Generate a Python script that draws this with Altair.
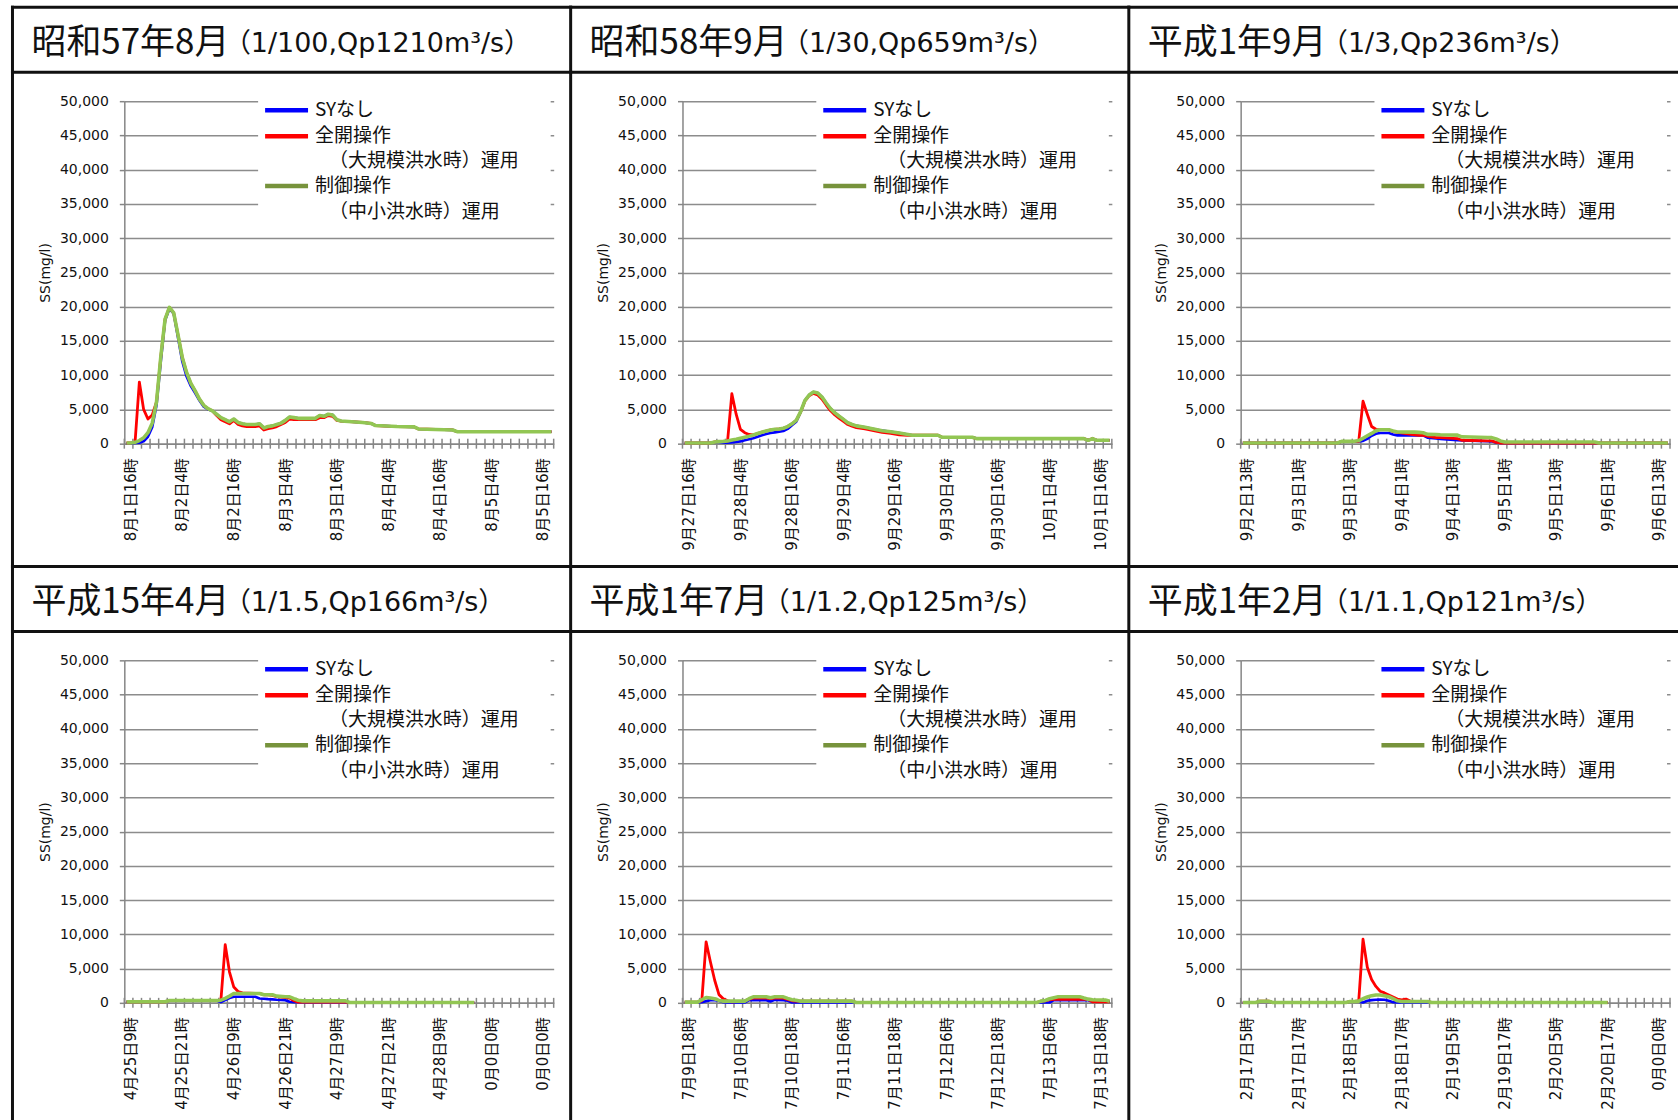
import altair as alt
import pandas as pd

# ---------------------------------------------------------------------------
# Panel titles
P1_TITLE, P1_SUB = "昭和57年8月", "（1/100,Qp1210m³/s）"
P2_TITLE, P2_SUB = "昭和58年9月", "（1/30,Qp659m³/s）"
P3_TITLE, P3_SUB = "平成1年9月", "（1/3,Qp236m³/s）"
P4_TITLE, P4_SUB = "平成15年4月", "（1/1.5,Qp166m³/s）"
P5_TITLE, P5_SUB = "平成1年7月", "（1/1.2,Qp125m³/s）"
P6_TITLE, P6_SUB = "平成1年2月", "（1/1.1,Qp121m³/s）"

# Category labels (every 12th hourly category)
P1_LABELS = ["8月1日16時", "8月2日4時", "8月2日16時", "8月3日4時", "8月3日16時",
             "8月4日4時", "8月4日16時", "8月5日4時", "8月5日16時"]
P2_LABELS = ["9月27日16時", "9月28日4時", "9月28日16時", "9月29日4時", "9月29日16時",
             "9月30日4時", "9月30日16時", "10月1日4時", "10月1日16時"]
P3_LABELS = ["9月2日13時", "9月3日1時", "9月3日13時", "9月4日1時", "9月4日13時",
             "9月5日1時", "9月5日13時", "9月6日1時", "9月6日13時"]
P4_LABELS = ["4月25日9時", "4月25日21時", "4月26日9時", "4月26日21時", "4月27日9時",
             "4月27日21時", "4月28日9時", "0月0日0時", "0月0日0時"]
P5_LABELS = ["7月9日18時", "7月10日6時", "7月10日18時", "7月11日6時", "7月11日18時",
             "7月12日6時", "7月12日18時", "7月13日6時", "7月13日18時"]
P6_LABELS = ["2月17日5時", "2月17日17時", "2月18日5時", "2月18日17時", "2月19日5時",
             "2月19日17時", "2月20日5時", "2月20日17時", "0月0日0時"]

# SS (mg/l) by hour index: SYなし / 全開操作 / 制御操作
P1_T = [0, 1, 2, 3, 4, 5, 6, 7, 8, 9, 10, 11, 12, 13, 14, 15, 16, 17, 18, 19,
        20, 21, 22, 23, 24, 25, 26, 27, 28, 30, 31, 32, 33, 34, 35, 36, 37, 38, 39, 40,
        44, 45, 46, 47, 48, 49, 50, 55, 57, 58, 63, 67, 68, 76, 77, 99]
P1_SY = [50, 50, 100, 150, 350, 1000, 2400, 5600, 12000, 18000,
         19700, 19000, 15500, 12000, 9800, 8400, 7400, 6300, 5400, 5000,
         4800, 4300, 3800, 3500, 3200, 3600, 3100, 2900, 2800,
         2800, 2900, 2300, 2500, 2600, 2800, 3000, 3400, 3900, 3800, 3700,
         3700, 4100, 4000, 4300, 4200, 3500, 3300,
         3100, 2950, 2650, 2500, 2450, 2150, 2000, 1750, 1750]
P1_FULL = [100, 100, 200, 9000, 5000, 3600, 4200, 6100, 12700, 18200,
           19900, 19100, 15900, 12600, 10400, 8800, 7700, 6500, 5600, 5100,
           4800, 4100, 3500, 3200, 2900, 3400, 2800, 2600, 2500,
           2500, 2600, 2000, 2200, 2300, 2500, 2800, 3100, 3600, 3500, 3500,
           3500, 3800, 3800, 4100, 4000, 3400, 3300,
           3100, 2950, 2650, 2500, 2450, 2150, 2000, 1750, 1750]
P1_CTRL = [100, 100, 200, 450, 850, 1600, 3000, 6100, 12700, 18200,
           19900, 19100, 15900, 12600, 10400, 8800, 7700, 6500, 5600, 5100,
           4800, 4300, 3800, 3500, 3200, 3600, 3100, 2900, 2800,
           2800, 2900, 2300, 2500, 2600, 2800, 3000, 3400, 3900, 3800, 3700,
           3700, 4100, 4000, 4300, 4200, 3500, 3300,
           3100, 2950, 2650, 2500, 2450, 2150, 2000, 1750, 1750]

P2_T = [0, 6, 7, 8, 9, 10, 11, 12, 13, 14, 15, 16, 17, 18, 19, 20, 21, 22, 23, 24,
        25, 26, 27, 28, 29, 30, 31, 32, 33, 34, 35, 36, 37, 38, 39, 40,
        42, 44, 46, 48, 50, 52, 53, 59, 60, 67, 68, 93, 94, 95, 96, 99]
P2_SY = [100, 100, 200, 200, 150, 150, 180, 260, 330, 500,
         650, 780, 1000, 1220, 1400, 1550, 1650, 1750, 1850, 2150,
         2700, 3200, 4600, 6300, 7100, 7550, 7400, 6800, 5900, 5100,
         4500, 4000, 3550, 3050, 2800, 2600,
         2400, 2150, 1900, 1750, 1550, 1350, 1230, 1230, 930, 930, 740, 740, 490, 740, 490, 490]
P2_FULL = [100, 100, 250, 300, 330, 380, 7300, 4300, 2100, 1600,
           1350, 1270, 1480, 1680, 1850, 2000, 2100, 2150, 2250, 2500,
           2900, 3400, 4600, 6200, 7000, 7350, 7100, 6500, 5600, 4800,
           4200, 3700, 3250, 2800, 2550, 2350,
           2150, 1900, 1650, 1500, 1300, 1200, 1230, 1230, 930, 930, 740, 740, 490, 740, 490, 490]
P2_CTRL = [100, 100, 250, 300, 330, 380, 520, 650, 800, 950,
           1100, 1270, 1480, 1680, 1850, 2000, 2100, 2150, 2250, 2500,
           2900, 3400, 4650, 6300, 7100, 7550, 7400, 6800, 5900, 5100,
           4500, 4000, 3550, 3050, 2800, 2600,
           2400, 2150, 1900, 1750, 1550, 1350, 1230, 1230, 930, 930, 740, 740, 490, 740, 490, 490]

P3_T = [0, 22, 23, 26, 27, 28, 29, 30, 31, 32, 34, 35, 36, 40, 41, 42, 43, 45, 46, 50,
        51, 57, 58, 59, 60, 61, 82, 83, 99]
P3_SY = [100, 100, 330, 330, 330, 400, 700, 1150, 1450, 1550,
         1550, 1350, 1210, 1210, 1210, 1210, 870, 750, 700, 500,
         480, 350, 340, 150, 100, 100, 100, 100, 100]
P3_FULL = [100, 100, 330, 340, 340, 6200, 4300, 2500, 2100, 2040,
           2040, 1800, 1650, 1300, 1210, 1210, 1100, 870, 870, 730,
           500, 420, 400, 200, 100, 100, 100, 100, 100]
P3_CTRL = [100, 100, 330, 340, 450, 800, 1150, 1500, 1900, 2040,
           2040, 1850, 1700, 1680, 1650, 1600, 1360, 1330, 1300, 1250,
           1000, 900, 880, 700, 400, 250, 250, 100, 100]

P4_T = [0, 9, 10, 21, 22, 23, 24, 25, 26, 27, 30, 31, 32, 33, 34, 35, 37, 38, 39, 40,
        41, 51, 52, 81]
P4_SY = [150, 150, 340, 340, 100, 400, 700, 880, 880, 880, 880, 640, 600, 540, 500, 450,
         390, 150, 100, 100, 100, 100, 50, 50]
P4_FULL = [150, 150, 340, 340, 400, 8500, 4500, 2300, 1650, 1450, 1370, 1370, 1180, 1180,
           1100, 900, 750, 700, 300, 100, 100, 100, 50, 50]
P4_CTRL = [150, 150, 340, 340, 390, 650, 980, 1370, 1370, 1370, 1370, 1370, 1180, 1180,
           1180, 980, 900, 880, 600, 390, 290, 290, 50, 50]

P5_T = [0, 3, 4, 5, 6, 7, 8, 9, 10, 11, 14, 15, 16, 19, 20, 21, 23, 24, 25, 26,
        27, 39, 40, 82, 83, 84, 85, 86, 87, 92, 93, 94, 95, 98, 99]
P5_SY = [50, 50, 100, 250, 390, 390, 300, 100, 50, 50, 50, 390, 390, 390, 200, 430, 400, 300,
         50, 50, 50, 50, 50, 50, 50, 50, 50, 390, 390, 390, 390, 390, 150, 150, 150]
P5_FULL = [100, 100, 300, 8900, 6000, 3300, 1200, 600, 300, 150, 250, 550, 700, 700, 600, 700,
           700, 500, 300, 250, 250, 245, 50, 50, 250, 300, 450, 500, 500, 500, 500, 500,
           150, 150, 150]
P5_CTRL = [100, 100, 450, 780, 700, 600, 350, 250, 250, 250, 250, 600, 880, 880, 735, 880,
           880, 650, 450, 390, 250, 245, 50, 50, 250, 350, 600, 750, 880, 880, 700, 540,
           450, 400, 250]

P6_T = [0, 3, 4, 6, 7, 24, 25, 26, 27, 28, 29, 30, 31, 32, 33, 34, 35, 36, 37, 38,
        39, 40, 43, 44, 85]
P6_SY = [50, 50, 240, 240, 50, 50, 200, 200, 150, 50, 300, 400, 450, 480, 450, 300, 100,
         50, 50, 50, 50, 50, 50, 50, 50]
P6_FULL = [50, 50, 240, 240, 50, 50, 200, 200, 300, 9300, 5200, 3400, 2400, 1700, 1450,
           1150, 850, 550, 450, 550, 250, 200, 200, 50, 50]
P6_CTRL = [50, 50, 240, 240, 50, 50, 200, 200, 250, 600, 850, 1050, 1150, 1150, 1050, 900,
           600, 300, 200, 200, 200, 200, 200, 50, 50]

SERIES = ["SYなし", "全開操作（大規模洪水時）運用", "制御操作（中小洪水時）運用"]
N_CATS = 100
Y_MAX = 50000

# ---------------------------------------------------------------------------
# Layout and styling
W, H = 430, 343            # plot area of one panel
GAP_X, GAP_Y = 129, 217    # space between neighbouring plot areas
PAGE_W, PAGE_H = 1679, 1120
X0, Y0 = 123, 99           # page position of the first plot area
BOX_L, BOX_T, TITLE_SEP = -112, -94, -29

INK = "#111111"
AXIS_GRAY = "#868686"
GRID_GRAY = "#8c8c8c"
LINE_COLORS = ["#0000ff", "#ff0000", "#92c653"]
KEY_COLORS = ["#0000ff", "#ff0000", "#77933c"]
LINE_WIDTHS = [2.6, 2.8, 3.6]
LATIN = "DejaVu Sans, Noto Sans CJK JP"
CJK = "Noto Sans CJK JP"
TITLE_SIZE, SUB_SIZE, KEY_SIZE = 35, 27, 19

ONE = pd.DataFrame({"k": [0]})


def rule(x, x2, y, y2, color=INK, width=3.0, cap="square"):
    return alt.Chart(ONE).mark_rule(color=color, strokeWidth=width, strokeCap=cap).encode(
        x=alt.value(x), x2=alt.value(x2), y=alt.value(y), y2=alt.value(y2))


def text(s, x, y, size, font, baseline="middle"):
    return alt.Chart(pd.DataFrame({"s": [s]})).mark_text(
        align="left", baseline=baseline, font=font, fontSize=size, color=INK
    ).encode(text="s:N", x=alt.value(x), y=alt.value(y))


def title_width(s, size):
    # full-width glyphs take one em, ASCII digits roughly half an em
    return sum(size * (0.55 if ch.isascii() else 1.0) for ch in s)


def panel(col, row, title, sub, labels, t, sy, full, ctrl):
    px = X0 + col * (W + GAP_X)
    py = Y0 + row * (H + GAP_Y)
    right = min(BOX_L + W + GAP_X, PAGE_W - px - 1.5)
    bottom = min(BOX_T + H + GAP_Y, PAGE_H - py - 1.5)

    frame = [
        rule(BOX_L, right, BOX_T, BOX_T),
        rule(BOX_L, BOX_L, BOX_T, bottom),
        rule(BOX_L, right, TITLE_SEP, TITLE_SEP),
    ]
    title_x = BOX_L + 19
    heading = [
        text(title, title_x, -47.5, TITLE_SIZE, CJK, "alphabetic"),
        text(sub, title_x + title_width(title, TITLE_SIZE) - 5, -49, SUB_SIZE, LATIN, "alphabetic"),
    ]

    label_list = "[" + ",".join("'" + s + "'" for s in labels) + "]"
    x_enc = alt.X(
        "t:Q",
        scale=alt.Scale(domain=[0, N_CATS], nice=False, zero=False),
        axis=alt.Axis(
            values=[12 * k + 0.5 for k in range(len(labels))],
            labelExpr=label_list + "[round((datum.value - 0.5) / 12)]",
            labelAngle=270, labelFont=LATIN, labelFontSize=15, labelColor=INK,
            labelPadding=14, labelOffset=4, labelFlush=False, labelOverlap=False,
            ticks=False, grid=False, domainColor=AXIS_GRAY, domainWidth=1.5, title=None,
        ),
    )
    y_enc = alt.Y(
        "v:Q",
        scale=alt.Scale(domain=[0, Y_MAX], nice=False),
        axis=alt.Axis(
            values=list(range(0, Y_MAX + 1, 5000)), format=",d",
            grid=True, gridColor=GRID_GRAY, gridWidth=1.5,
            domainColor=AXIS_GRAY, domainWidth=1.5,
            tickColor=AXIS_GRAY, tickSize=5, tickWidth=1.5,
            labelFont="DejaVu Sans", labelFontSize=14, labelColor=INK,
            labelPadding=11, labelOverlap=False,
            title="SS(mg/l)", titleX=-79, titleY=H / 2, titleAngle=270,
            titleAlign="center", titleBaseline="middle",
            titleFont="DejaVu Sans", titleFontSize=14, titleFontWeight="normal",
            titleColor=INK,
        ),
    )

    tick_df = pd.DataFrame({"t": list(range(0, N_CATS + 1, 2))})
    ticks = alt.Chart(tick_df).mark_rule(color=AXIS_GRAY, strokeWidth=1.5).encode(
        x=x_enc, y=alt.value(H - 5), y2=alt.value(H + 5))

    rows = []
    for name, vals in zip(SERIES, [sy, full, ctrl]):
        for h, v in zip(t, vals):
            rows.append({"s": name, "t": h + 0.5, "v": v})
    df = pd.DataFrame(rows)
    lines = [
        alt.Chart(df).transform_filter(alt.datum.s == name).mark_line(
            color=color, strokeWidth=width, strokeJoin="round"
        ).encode(x=x_enc, y=y_enc)
        for name, color, width in zip(SERIES, LINE_COLORS, LINE_WIDTHS)
    ]

    key = [
        alt.Chart(ONE).mark_rect(color="white").encode(
            x=alt.value(134), x2=alt.value(427), y=alt.value(-4), y2=alt.value(126)),
        rule(141, 184, 9, 9, KEY_COLORS[0], 4.5, "butt"),
        rule(141, 184, 35, 35, KEY_COLORS[1], 4.5, "butt"),
        rule(141, 184, 85, 85, KEY_COLORS[2], 4.5, "butt"),
        text("SYなし", 191, 9, KEY_SIZE, CJK),
        text("全開操作", 191, 35, KEY_SIZE, CJK),
        text("（大規模洪水時）運用", 205, 60, KEY_SIZE, CJK),
        text("制御操作", 191, 85, KEY_SIZE, CJK),
        text("（中小洪水時）運用", 205, 111, KEY_SIZE, CJK),
    ]

    return alt.layer(*frame, *heading, ticks, *lines, *key).properties(width=W, height=H)


panels = [
    panel(0, 0, P1_TITLE, P1_SUB, P1_LABELS, P1_T, P1_SY, P1_FULL, P1_CTRL),
    panel(1, 0, P2_TITLE, P2_SUB, P2_LABELS, P2_T, P2_SY, P2_FULL, P2_CTRL),
    panel(2, 0, P3_TITLE, P3_SUB, P3_LABELS, P3_T, P3_SY, P3_FULL, P3_CTRL),
    panel(0, 1, P4_TITLE, P4_SUB, P4_LABELS, P4_T, P4_SY, P4_FULL, P4_CTRL),
    panel(1, 1, P5_TITLE, P5_SUB, P5_LABELS, P5_T, P5_SY, P5_FULL, P5_CTRL),
    panel(2, 1, P6_TITLE, P6_SUB, P6_LABELS, P6_T, P6_SY, P6_FULL, P6_CTRL),
]

chart = alt.concat(
    *panels, columns=3, spacing={"row": GAP_Y, "column": GAP_X}, bounds="flush"
).properties(
    padding={"left": X0 + BOX_L - 1.5, "top": Y0 + BOX_T - 1.5, "right": 0, "bottom": 0},
    background="white",
).configure_view(strokeWidth=0)

chart.save("out.html", embed_options={"renderer": "svg", "actions": False})
